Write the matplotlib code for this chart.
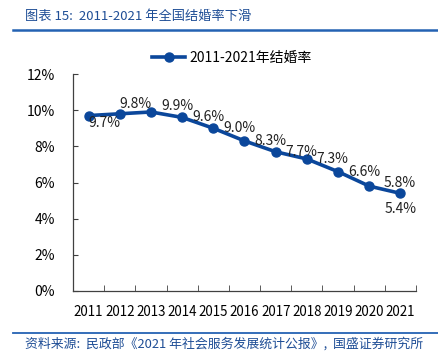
# Marriage rate chart, 2011-2021
import numpy as np
import matplotlib.pyplot as plt
from matplotlib.lines import Line2D

plt.rcParams['font.family'] = ['Noto Sans CJK SC', 'DejaVu Sans']

# data
years = ['2011', '2012', '2013', '2014', '2015', '2016',
         '2017', '2018', '2019', '2020', '2021']
rates = [9.7, 9.8, 9.9, 9.6, 9.0, 8.3, 7.7, 7.3, 6.6, 5.8, 5.4]
yticks = [0, 2, 4, 6, 8, 10, 12]

blue = '#0B479B'
title_blue = '#1F4E96'

fig = plt.figure(figsize=(4.39, 3.56), dpi=100)
W, H = 439, 356
# axes box in pixels: left 73, right 416, top 74, bottom 291
ax = fig.add_axes([73 / W, 1 - 291 / H, (416 - 73) / W, (291 - 74) / H])

xs = np.arange(len(years))
ax.plot(xs, rates, color=blue, lw=2.6, marker='o', ms=6.5, zorder=3)

ax.set_xlim(-0.5, len(years) - 0.5)
ax.set_ylim(0, 12)
ax.set_yticks(yticks)
ax.set_yticklabels([f'{v}%' for v in yticks], fontsize=10)
ax.set_xticks(xs)
ax.set_xticklabels(years, fontsize=9.6)
ax.set_xticks(np.arange(-0.5, len(years)), minor=True)
ax.tick_params(axis='x', which='major', length=0, pad=10)
ax.tick_params(axis='x', which='minor', direction='in', length=4, color='#404040')
ax.tick_params(axis='y', direction='in', length=3.5, pad=13, color='#404040')
for s in ['top', 'right']:
    ax.spines[s].set_visible(False)
for s in ['left', 'bottom']:
    ax.spines[s].set_color('#404040')
    ax.spines[s].set_linewidth(0.9)

# data labels, offsets in pixels
offsets = [(0, -7, 'left'), (0, 10, 'left')] + [(10, 0, 'left')] * 8 + [(0, -16, 'center')]
offsets[2] = (10, 6, 'left')
offsets[9] = (14, 3, 'left')
for i, (v, (dx, dy, ha)) in enumerate(zip(rates, offsets)):
    ax.annotate(f'{v:.1f}%', (xs[i], v), xytext=(dx, dy), textcoords='offset pixels',
                ha=ha, va='center', fontsize=10, color='#222222', zorder=4)

# legend
handle = Line2D([], [], color=blue, lw=2.6, marker='o', ms=6.5)
fig.legend([handle], ['2011-2021年结婚率'], loc='center', bbox_to_anchor=(232 / W, 1 - 58 / H),
           frameon=False, fontsize=10, handlelength=2.4, handletextpad=0.3)

# header and footer
fig.text(25 / W, 1 - 16 / H, '图表 15:  2011-2021 年全国结婚率下滑', color=title_blue,
         fontsize=9.5, style='italic', fontweight='medium', va='center', ha='left')
fig.add_artist(Line2D([13 / W, 438 / W], [1 - 30 / H, 1 - 30 / H], color='#2462B3', lw=1.8))
fig.add_artist(Line2D([13 / W, 438 / W], [1 - 333 / H, 1 - 333 / H], color='#2462B3', lw=1.3))
fig.text(25 / W, 1 - 344 / H, '资料来源:  民政部《2021 年社会服务发展统计公报》,  国盛证券研究所',
         color=title_blue, fontsize=9.3, style='italic', va='center', ha='left')

plt.savefig('out.png', dpi=100)
